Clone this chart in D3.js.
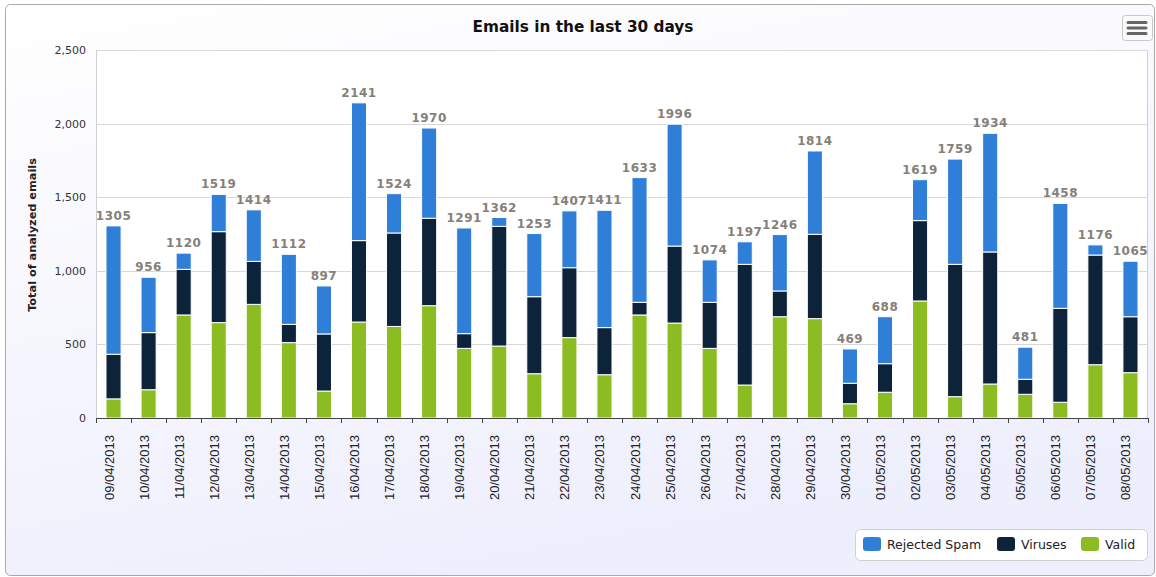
<!DOCTYPE html>
<html>
<head>
<meta charset="utf-8">
<script src="https://cdn.jsdelivr.net/npm/d3@7"></script>
<style>
  body { margin: 0; background: #fff; }
  svg { display: block; }
</style>
</head>
<body>
<svg id="chart" width="1156" height="577"></svg>
<script>
// dates on the x axis
var dates = ["09/04/2013", "10/04/2013", "11/04/2013", "12/04/2013", "13/04/2013", "14/04/2013",
    "15/04/2013", "16/04/2013", "17/04/2013", "18/04/2013", "19/04/2013", "20/04/2013",
    "21/04/2013", "22/04/2013", "23/04/2013", "24/04/2013", "25/04/2013", "26/04/2013",
    "27/04/2013", "28/04/2013", "29/04/2013", "30/04/2013", "01/05/2013", "02/05/2013",
    "03/05/2013", "04/05/2013", "05/05/2013", "06/05/2013", "07/05/2013", "08/05/2013"];

// series, stacked bottom to top: valid, viruses, rejected spam
var valid = [130, 192, 700, 648, 772, 512, 183, 652, 622, 763, 473, 489, 301, 546, 294,
    700, 645, 473, 224, 688, 675, 97, 175, 795, 145, 231, 161, 107, 362, 308];
var viruses = [303, 388, 310, 618, 292, 124, 388, 553, 635, 594, 100, 813, 523, 475, 320,
    86, 523, 313, 820, 175, 573, 139, 194, 546, 899, 897, 102, 638, 745, 380];
var totals = [1305, 956, 1120, 1519, 1414, 1112, 897, 2141, 1524, 1970, 1291, 1362, 1253, 1407, 1411,
    1633, 1996, 1074, 1197, 1246, 1814, 469, 688, 1619, 1759, 1934, 481, 1458, 1176, 1065];
var spam = totals.map(function (t, i) { return t - valid[i] - viruses[i]; });

var yTicks = [0, 500, 1000, 1500, 2000, 2500];

var series = [
    { name: "Valid", values: valid, color: "#8bbc21" },
    { name: "Viruses", values: viruses, color: "#0d233a" },
    { name: "Rejected Spam", values: spam, color: "#2f7ed8" }
];
var legendOrder = ["Rejected Spam", "Viruses", "Valid"];

var svg = d3.select("#chart");
var plot = { left: 96, right: 1148, top: 50, bottom: 418 };

// background
var defs = svg.append("defs");
var grad = defs.append("linearGradient").attr("id", "bg")
    .attr("x1", 0).attr("y1", 0).attr("x2", 0.35).attr("y2", 1);
grad.append("stop").attr("offset", "0%").attr("stop-color", "#ffffff");
grad.append("stop").attr("offset", "100%").attr("stop-color", "#eeeffc");

svg.append("rect")
    .attr("x", 5.5).attr("y", 4.5).attr("width", 1149).attr("height", 571)
    .attr("rx", 5)
    .attr("fill", "url(#bg)")
    .attr("stroke", "#a8a8a8");

// plot area
svg.append("rect")
    .attr("x", plot.left + 0.5).attr("y", plot.top + 0.5)
    .attr("width", plot.right - plot.left - 1).attr("height", plot.bottom - plot.top)
    .attr("fill", "#ffffff")
    .attr("stroke", "#d0d0d0");

var x = d3.scaleBand().domain(dates).range([plot.left, plot.right]);
var y = d3.scaleLinear().domain([0, 2500]).range([plot.bottom, plot.top]);
var barW = x.bandwidth() * 0.43;

// gridlines
svg.append("g").selectAll("line").data(yTicks.slice(1)).join("line")
    .attr("x1", plot.left).attr("x2", plot.right)
    .attr("y1", function (d) { return Math.round(y(d)) + 0.5; })
    .attr("y2", function (d) { return Math.round(y(d)) + 0.5; })
    .attr("stroke", "#d8d8d8");

// y axis labels
svg.append("g").selectAll("text").data(yTicks).join("text")
    .attr("x", 86)
    .attr("y", function (d) { return y(d) + 4; })
    .attr("text-anchor", "end")
    .attr("font-family", "DejaVu Sans")
    .attr("font-size", 11)
    .attr("fill", "#333")
    .text(d3.format(","));

svg.append("text")
    .attr("transform", "translate(36,235) rotate(-90)")
    .attr("text-anchor", "middle")
    .attr("font-family", "DejaVu Sans")
    .attr("font-weight", "bold")
    .attr("font-size", 11.3)
    .attr("fill", "#222")
    .text("Total of analyzed emails");

// stacked bars
var stack = d3.stack().keys([0, 1, 2]).value(function (d, k) { return series[k].values[d]; });
var layers = stack(d3.range(dates.length));

svg.append("g").selectAll("g").data(layers).join("g")
    .attr("fill", function (d, k) { return series[k].color; })
  .selectAll("rect").data(function (d) { return d; }).join("rect")
    .attr("x", function (d, i) { return x(dates[i]) + x.bandwidth() / 2 - barW / 2; })
    .attr("width", barW)
    .attr("y", function (d) { return y(d[1]); })
    .attr("height", function (d) { return y(d[0]) - y(d[1]); })
    .attr("stroke", "#ffffff")
    .attr("stroke-width", 1);

// total labels
svg.append("g").selectAll("text").data(totals).join("text")
    .attr("x", function (d, i) { return x(dates[i]) + x.bandwidth() / 2; })
    .attr("y", function (d) { return y(d) - 6; })
    .attr("text-anchor", "middle")
    .attr("font-family", "DejaVu Sans")
    .attr("font-weight", "bold")
    .attr("font-size", 12)
    .attr("letter-spacing", 0.5)
    .attr("fill", "#858079")
    .text(function (d) { return d; });

// x axis
svg.append("line")
    .attr("x1", plot.left).attr("x2", plot.right)
    .attr("y1", plot.bottom + 0.5).attr("y2", plot.bottom + 0.5)
    .attr("stroke", "#444");

var ticksX = dates.map(function (d) { return x(d); }).concat([plot.right]);
svg.append("g").selectAll("line").data(ticksX).join("line")
    .attr("x1", function (d) { return Math.round(d) + 0.5; })
    .attr("x2", function (d) { return Math.round(d) + 0.5; })
    .attr("y1", plot.bottom).attr("y2", plot.bottom + 5)
    .attr("stroke", "#444");

svg.append("g").selectAll("text").data(dates).join("text")
    .attr("transform", function (d) {
        return "translate(" + (x(d) + x.bandwidth() / 2) + ",435) rotate(-90)";
    })
    .attr("text-anchor", "end")
    .attr("font-family", "Liberation Sans")
    .attr("font-size", 13)
    .attr("fill", "#222")
    .text(function (d) { return d; });

// title
svg.append("text")
    .attr("x", 583).attr("y", 32)
    .attr("text-anchor", "middle")
    .attr("font-family", "DejaVu Sans")
    .attr("font-weight", "bold")
    .attr("font-size", 15.3)
    .attr("fill", "#111")
    .text("Emails in the last 30 days");

// menu button
var btn = svg.append("g");
btn.append("rect")
    .attr("x", 1122.5).attr("y", 15.5).attr("width", 30).attr("height", 25).attr("rx", 3)
    .attr("fill", "#fafafa").attr("stroke", "#c8c8c8");
btn.selectAll("line").data([22.5, 28, 33.5]).join("line")
    .attr("x1", 1128).attr("x2", 1146)
    .attr("y1", function (d) { return d; }).attr("y2", function (d) { return d; })
    .attr("stroke", "#666").attr("stroke-width", 3).attr("stroke-linecap", "round");

// legend
var legend = svg.append("g");
legend.append("rect")
    .attr("x", 855.5).attr("y", 529.5).attr("width", 292).attr("height", 31).attr("rx", 5)
    .attr("fill", "#ffffff").attr("stroke", "#d0d0d0");

var legendX = [863, 997, 1081];
legendOrder.forEach(function (name, i) {
    var s = series.filter(function (d) { return d.name === name; })[0];
    legend.append("rect")
        .attr("x", legendX[i]).attr("y", 537).attr("width", 18).attr("height", 14).attr("rx", 3)
        .attr("fill", s.color);
    legend.append("text")
        .attr("x", legendX[i] + 24).attr("y", 549)
        .attr("font-family", "DejaVu Sans")
        .attr("font-size", 12.5)
        .attr("fill", "#222")
        .text(name);
});
</script>
</body>
</html>
